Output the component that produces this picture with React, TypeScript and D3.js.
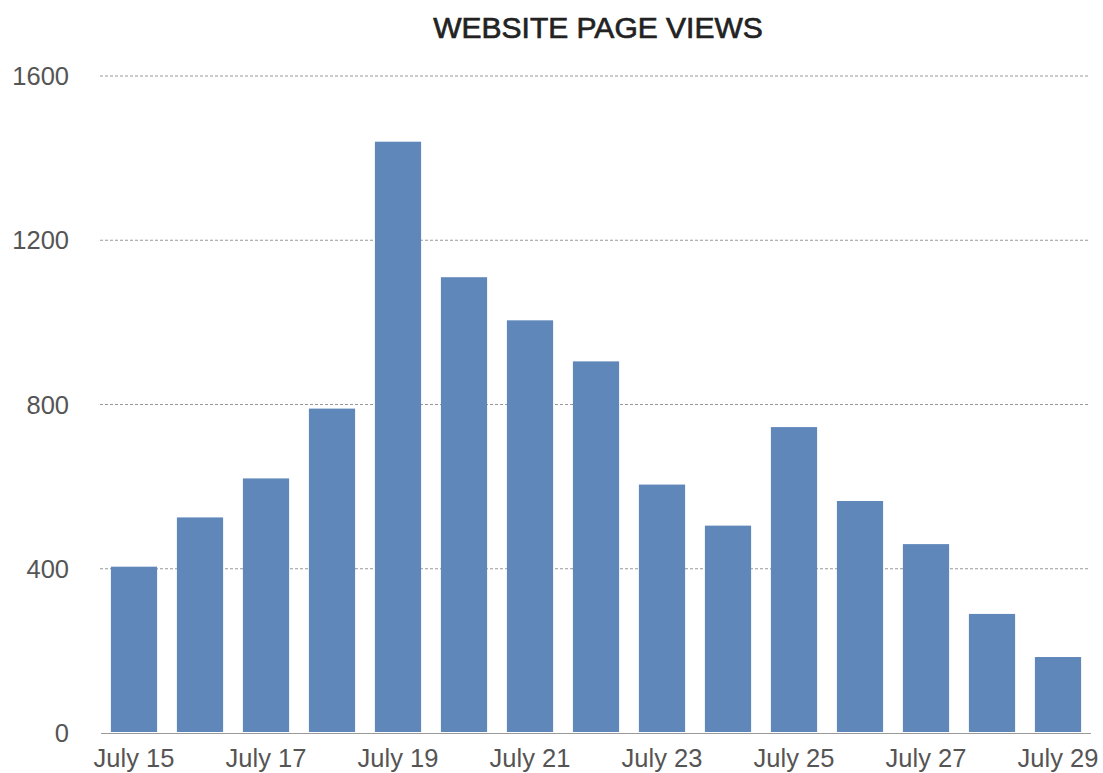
import React from 'react';
import * as d3 from 'd3';

const days: string[] = [
  'July 15', 'July 16', 'July 17', 'July 18', 'July 19', 'July 20', 'July 21', 'July 22',
  'July 23', 'July 24', 'July 25', 'July 26', 'July 27', 'July 28', 'July 29',
];
const pageViews: number[] = [405, 525, 620, 790, 1440, 1110, 1005, 905, 605, 505, 745, 565, 460, 290, 185];
const yTicks: number[] = [0, 400, 800, 1200, 1600];
const xTickLabels: string[] = ['July 15', 'July 17', 'July 19', 'July 21', 'July 23', 'July 25', 'July 27', 'July 29'];

const WIDTH = 1103;
const HEIGHT = 773;
const FONT = '"Liberation Sans", Arial, Helvetica, sans-serif';

const App: React.FC = () => {
  const plotLeft = 101;
  const plotRight = 1091;
  const plotTop = 76;
  const plotBottom = 733;

  // Category scale, bars take ~70% of each slot
  const xScale = d3.scaleBand<string>()
    .domain(days)
    .range([plotLeft, plotRight])
    .paddingInner(0.3)
    .paddingOuter(0.15);

  const yScale = d3.scaleLinear()
    .domain([0, 1600])
    .range([plotBottom, plotTop]);

  return (
    <svg
      width={WIDTH}
      height={HEIGHT}
      style={{ position: 'absolute', left: 0, top: 0, background: '#fff' }}
    >
      {/* Title: regular weight with a thin stroke, to look like a medium weight */}
      <text
        x={(plotLeft + plotRight) / 2 + 2}
        y={38}
        textAnchor="middle"
        fontFamily={FONT}
        fontSize={30}
        fill="#222"
        stroke="#222"
        strokeWidth={0.7}
      >
        WEBSITE PAGE VIEWS
      </text>

      {/* Grid lines (dashed, skip the baseline) */}
      {yTicks.filter(t => t > 0).map(t => (
        <line
          key={`grid-${t}`}
          x1={plotLeft - 1}
          x2={plotRight - 1}
          y1={yScale(t)}
          y2={yScale(t)}
          stroke="#999"
          strokeWidth={1.2}
          strokeDasharray="3,2"
        />
      ))}

      {/* Y tick labels */}
      {yTicks.map(t => (
        <text
          key={`ytick-${t}`}
          x={69}
          y={yScale(t)}
          dy="0.36em"
          textAnchor="end"
          fontFamily={FONT}
          fontSize={25.5}
          fill="#555"
        >
          {t}
        </text>
      ))}

      {/* Bars */}
      {days.map((d, i) => (
        <rect
          key={`bar-${d}`}
          x={xScale(d) ?? 0}
          y={yScale(pageViews[i])}
          width={xScale.bandwidth()}
          height={yScale(0) - yScale(pageViews[i]) - 1}
          fill="#5f87ba"
        />
      ))}

      {/* Baseline */}
      <line
        x1={plotLeft}
        x2={plotRight}
        y1={plotBottom + 0.5}
        y2={plotBottom + 0.5}
        stroke="#999"
        strokeWidth={1.2}
      />

      {/* X tick labels, every other day */}
      {xTickLabels.map(label => (
        <text
          key={`xtick-${label}`}
          x={(xScale(label) ?? 0) + xScale.bandwidth() / 2}
          y={767}
          textAnchor="middle"
          fontFamily={FONT}
          fontSize={25.5}
          fill="#555"
        >
          {label}
        </text>
      ))}
    </svg>
  );
};

export default App;
